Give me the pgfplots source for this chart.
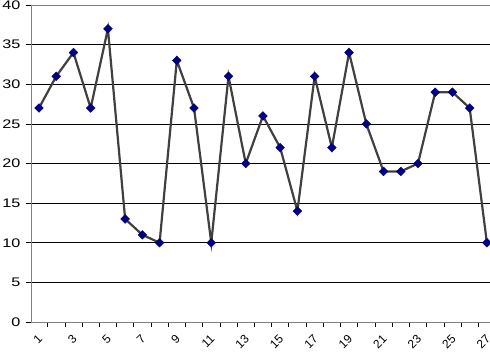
\documentclass[border=0pt]{standalone}
\usepackage{pgfplots}
\pgfplotsset{compat=1.18}
\usepackage{fontspec}
\setmainfont{Liberation Sans}
\definecolor{linegray}{HTML}{404040}
\definecolor{marknavy}{HTML}{000080}
\definecolor{axgray}{HTML}{808080}
\begin{document}
\begin{tikzpicture}
\useasboundingbox (0,0) rectangle (490bp,357bp);
\begin{axis}[
  at={(31bp,35bp)}, anchor=south west,
  scale only axis, width=459bp, height=317bp,
  xmin=0.536, xmax=27.18, ymin=0, ymax=40,
  axis x line=bottom, axis y line=left,
  axis line style={-, draw=axgray, line width=0.8pt},
  tick align=outside,
  major tick length=5bp,
  tick style={draw=black, line width=0.6pt},
  ytick={0,5,...,35},
  extra y ticks={40},
  extra y tick style={grid style={draw=axgray, line width=0.8pt}},
  ymajorgrids,
  grid style={draw=black, line width=0.7pt},
  xtick={1.5,2.5,...,26.5},
  xticklabels={},
  extra x ticks={1,3,...,27},
  extra x tick style={major tick length=0pt, xmajorgrids=false},
  x tick label style={yshift=-14bp, xshift=2bp, rotate=45, anchor=east, font=\fontsize{12}{13}\selectfont, inner sep=1pt},
  y tick label style={font=\fontsize{12.5}{14}\selectfont, xshift=-2bp},
  yticklabel={\scalebox{1.3}[1]{\pgfmathprintnumber{\tick}}},
  /pgf/number format/assume math mode=true,
  clip=false,
]
\addplot[draw=linegray, line width=2.2bp, mark=square*, mark size=3.1bp,
  mark options={draw=marknavy, fill=marknavy, line width=0.4pt, rotate=45}]
  coordinates {
  (1,27) (2,31) (3,34) (4,27) (5,37) (6,13) (7,11) (8,10) (9,33)
  (10,27) (11,10) (12,31) (13,20) (14,26) (15,22) (16,14) (17,31) (18,22)
  (19,34) (20,25) (21,19) (22,19) (23,20) (24,29) (25,29) (26,27) (27,10)
  };
\end{axis}
\end{tikzpicture}
\end{document}
